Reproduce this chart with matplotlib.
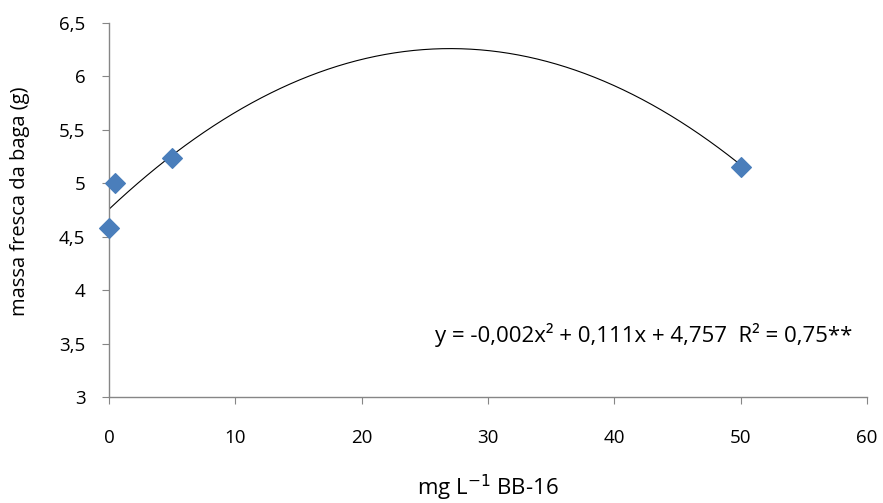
import matplotlib.pyplot as plt
import numpy as np

plt.rcParams['font.family'] = ['Open Sans', 'DejaVu Sans']

# dados
doses = [0, 0.5, 5, 50]
massa = [4.58, 5.0, 5.24, 5.15]
# coeficientes da linha de tendência (polinomial 2ª ordem)
coef = [-0.00206, 0.1113, 4.757]
x_ticks = [0, 10, 20, 30, 40, 50, 60]
y_ticks = [3, 3.5, 4, 4.5, 5, 5.5, 6, 6.5]
y_labels = ['3', '3,5', '4', '4,5', '5', '5,5', '6', '6,5']

fig = plt.figure(figsize=(8.83, 5.03), dpi=100)
ax = fig.add_axes([0.1234, 0.2107, 0.8585, 0.7436])

xs = np.linspace(0, 50, 200)
ax.plot(xs, np.polyval(coef, xs), color='black', lw=0.8, zorder=2)
ax.scatter(doses, massa, marker='D', s=100, color='#4a7ebb', zorder=3, clip_on=False)

ax.set_xlim(0, 60)
ax.set_ylim(3, 6.5)
ax.set_xticks(x_ticks)
ax.set_yticks(y_ticks)
ax.set_yticklabels(y_labels)
ax.tick_params(labelsize=13.5, color='#868686', length=5, direction='out')
ax.tick_params(axis='x', pad=18)
ax.tick_params(axis='y', pad=12)
for s in ['top', 'right']:
    ax.spines[s].set_visible(False)
for s in ['left', 'bottom']:
    ax.spines[s].set_color('#868686')
    ax.spines[s].set_linewidth(1)

ax.text(42.3, 3.58, 'y = -0,002x² + 0,111x + 4,757  R² = 0,75**', ha='center', va='center', fontsize=16)
fig.text(0.023, 0.6, 'massa fresca da baga (g)', rotation=90, ha='center', va='center', fontsize=14.5)
fig.text(0.553, 0.03, 'mg L$^{-1}$ BB-16', ha='center', va='center', fontsize=16)

fig.savefig('out.png', dpi=100)
